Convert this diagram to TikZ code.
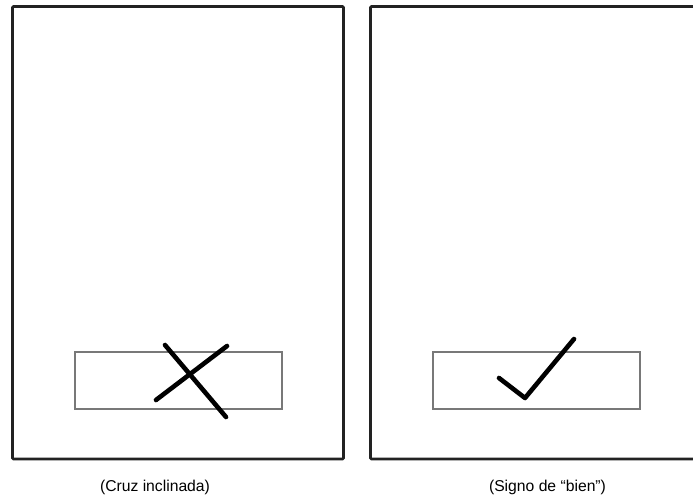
\documentclass[tikz,border=0pt]{standalone}
\usepackage{fontspec}
\setmainfont{Liberation Sans}
\usetikzlibrary{positioning}
\definecolor{framegray}{RGB}{34,34,34}
\definecolor{boxgray}{RGB}{120,120,120}

\begin{document}
\begin{tikzpicture}[x=1pt, y=-1pt,
                      frame/.style = {
                        draw=framegray, line width=2.8pt,
                        rounded corners=1pt
                      },
                      field/.style = {
                        draw=boxgray, line width=1.1pt
                      },
                      pen/.style = {
                        draw=black, line width=4.6pt,
                        line cap=round
                      },
                      caption/.style = {
                        font=\fontsize{15.7}{18}\selectfont,
                        text=black, inner sep=0pt
                      }]
    \useasboundingbox (0,0) rectangle (693,500);

    % left sheet: slanted cross
    \draw[frame] (12.5,6.5) rectangle (343.5,459);
    \draw[field] (75,352) rectangle (282,409);
    \draw[pen] (165,345) -- (226,417);
    \draw[pen] (156,400) -- (227,346);
    \node[caption] (crossText) at (155,487) {(Cruz inclinada)};

    % right sheet: tick
    \draw[frame] (710,6.5) -- (370.5,6.5) -- (370.5,459) -- (710,459);
    \draw[field] (433,352) rectangle (640,409);
    \draw[pen, line join=round] (499,378) -- (525,398) -- (574,339);
    \node[caption] (tickText) at (547.5,487) {(Signo de “bien”)};
  \end{tikzpicture}
\end{document}
